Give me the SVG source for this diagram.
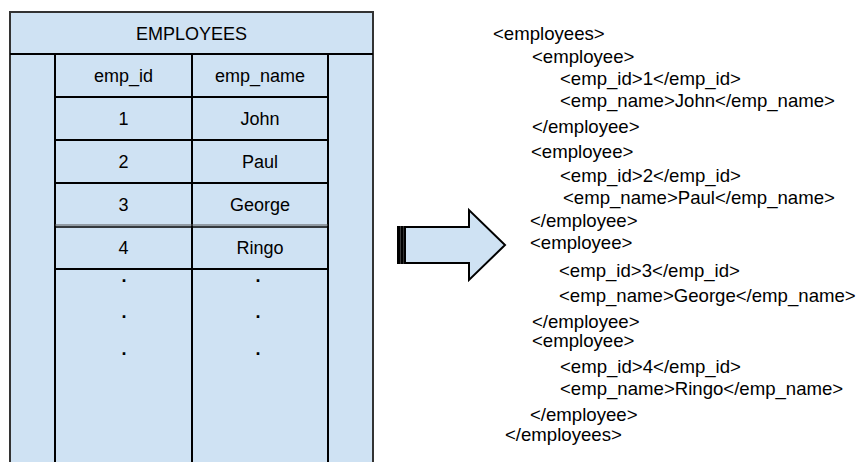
<svg xmlns="http://www.w3.org/2000/svg" width="861" height="462" viewBox="0 0 861 462">
  <style>
    .cell { fill: #cfe2f3; stroke: #000; stroke-width: 2; }
    .frame { fill: #cfe2f3; stroke: #333; stroke-width: 2; }
    .grid { stroke: #000; stroke-width: 2; fill: none; }
    .t { font-family: "Liberation Sans", Arial, sans-serif; font-size: 18px; fill: #000; }
    .c { text-anchor: middle; }
    .xml { font-family: "Liberation Sans", Arial, sans-serif; font-size: 18.6px; fill: #000; }
  </style>

  <rect width="861" height="462" fill="#fff"/>

  <!-- Relational table -->
  <g id="employees-table">
    <rect class="frame" x="10" y="12" width="363" height="462"/>
    <line class="grid" x1="10" y1="54" x2="373" y2="54"/>
    <line class="grid" x1="55" y1="54" x2="55" y2="462"/>
    <line class="grid" x1="192" y1="54" x2="192" y2="462"/>
    <line class="grid" x1="328" y1="54" x2="328" y2="462"/>
    <line class="grid" x1="55" y1="97" x2="328" y2="97"/>
    <line class="grid" x1="55" y1="140" x2="328" y2="140"/>
    <line class="grid" x1="55" y1="183" x2="328" y2="183"/>
    <line x1="55" y1="225" x2="328" y2="225" stroke="#555" stroke-width="1"/>
    <line x1="55" y1="227" x2="328" y2="227" stroke="#000" stroke-width="1.5"/>
    <line class="grid" x1="55" y1="269" x2="328" y2="269"/>

    <text class="t c" x="191.5" y="40">EMPLOYEES</text>
    <text class="t c" x="123.5" y="82">emp_id</text>
    <text class="t c" x="260" y="82">emp_name</text>
    <text class="t c" x="123.5" y="125">1</text>
    <text class="t c" x="260" y="125">John</text>
    <text class="t c" x="123.5" y="168">2</text>
    <text class="t c" x="260" y="168">Paul</text>
    <text class="t c" x="123.5" y="211">3</text>
    <text class="t c" x="260" y="211">George</text>
    <text class="t c" x="123.5" y="254">4</text>
    <text class="t c" x="260" y="254">Ringo</text>

    <text class="t c" x="124" y="282" font-weight="bold">.</text>
    <text class="t c" x="258" y="282" font-weight="bold">.</text>
    <text class="t c" x="124" y="318" font-weight="bold">.</text>
    <text class="t c" x="258" y="318" font-weight="bold">.</text>
    <text class="t c" x="124" y="355" font-weight="bold">.</text>
    <text class="t c" x="258" y="355" font-weight="bold">.</text>
  </g>

  <!-- Striped block arrow -->
  <g id="connectors">
    <rect class="cell" x="398" y="227" width="1.4" height="36" stroke-width="1.2"/>
    <rect class="cell" x="401.4" y="227" width="1.4" height="36" stroke-width="1.2"/>
    <path class="cell" d="M405,227 H469 V210 L505,245 L469,280 V263 H405 Z" stroke-width="1.8"/>
  </g>

  <!-- XML output -->
  <g id="xml-output" class="xml">
    <text x="493" y="40">&lt;employees&gt;</text>
    <text x="532" y="63">&lt;employee&gt;</text>
    <text x="560" y="85">&lt;emp_id&gt;1&lt;/emp_id&gt;</text>
    <text x="560" y="107">&lt;emp_name&gt;John&lt;/emp_name&gt;</text>
    <text x="532" y="133">&lt;/employee&gt;</text>
    <text x="531" y="158">&lt;employee&gt;</text>
    <text x="560" y="182">&lt;emp_id&gt;2&lt;/emp_id&gt;</text>
    <text x="563" y="204">&lt;emp_name&gt;Paul&lt;/emp_name&gt;</text>
    <text x="530" y="227">&lt;/employee&gt;</text>
    <text x="530" y="249">&lt;employee&gt;</text>
    <text x="559" y="277">&lt;emp_id&gt;3&lt;/emp_id&gt;</text>
    <text x="559" y="302">&lt;emp_name&gt;George&lt;/emp_name&gt;</text>
    <text x="532" y="328">&lt;/employee&gt;</text>
    <text x="532" y="347">&lt;employee&gt;</text>
    <text x="560" y="373">&lt;emp_id&gt;4&lt;/emp_id&gt;</text>
    <text x="560" y="395">&lt;emp_name&gt;Ringo&lt;/emp_name&gt;</text>
    <text x="530" y="421">&lt;/employee&gt;</text>
    <text x="505" y="441">&lt;/employees&gt;</text>
  </g>
</svg>
